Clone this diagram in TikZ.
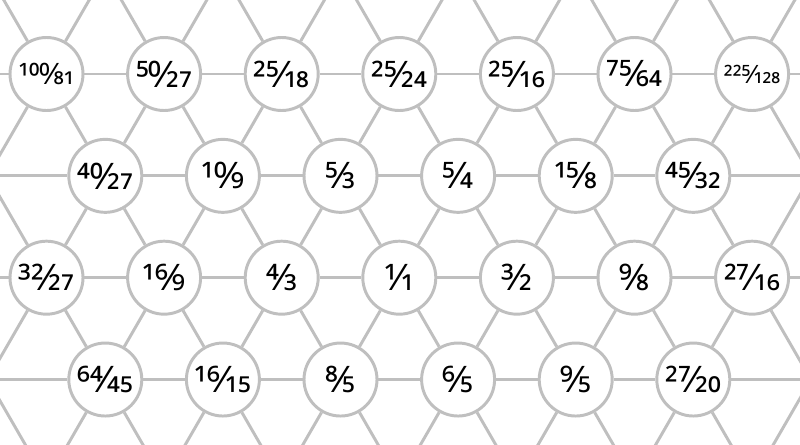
\documentclass[tikz,border=0pt]{standalone}
\usepackage{fontspec}
\setmainfont{Open Sans}
\newfontfamily\fracfont[Fractions=On]{Noto Sans}
\usetikzlibrary{positioning}

\tikzstyle{pitch} = [circle, draw=black!25, line width=2.1pt, fill=white, minimum size=1.825cm, inner sep=0pt]
\tikzstyle{link}  = [draw=black!25, line width=2.1pt]

% a ratio set as a font fraction, #1 = size in pt
\newcommand{\ratio}[3][26]{{\fontsize{#1}{#1}\fracfont #2/#3}}

\begin{document}
\begin{tikzpicture}
	\useasboundingbox (0,0) rectangle (20,-11.1);
	\clip (0,0) rectangle (20,-11.1);

	% lattice points (rows 0 and 5, columns 0 and 8 lie off the page)
	\foreach \r in {0,...,5} {
		\foreach \c in {0,...,8} {
			\ifodd\r
				\coordinate (p-\r-\c) at ({1.1625+(\c-1)*2.94}, {-1.85-(\r-1)*2.546});
			\else
				\coordinate (p-\r-\c) at ({1.1625+(\c-0.5)*2.94}, {-1.85-(\r-1)*2.546});
			\fi
		}
	}

	\node[pitch] (p-1-1) at (p-1-1) {\ratio[21]{100}{81}};
	\node[pitch] (p-1-2) at (p-1-2) {\ratio{50}{27}};
	\node[pitch] (p-1-3) at (p-1-3) {\ratio{25}{18}};
	\node[pitch] (p-1-4) at (p-1-4) {\ratio{25}{24}};
	\node[pitch] (p-1-5) at (p-1-5) {\ratio{25}{16}};
	\node[pitch] (p-1-6) at (p-1-6) {\ratio{75}{64}};
	\node[pitch] (p-1-7) at (p-1-7) {\ratio[18]{225}{128}};

	\node[pitch] (p-2-1) at (p-2-1) {\ratio{40}{27}};
	\node[pitch] (p-2-2) at (p-2-2) {\ratio{10}{9}};
	\node[pitch] (p-2-3) at (p-2-3) {\ratio{5}{3}};
	\node[pitch] (p-2-4) at (p-2-4) {\ratio{5}{4}};
	\node[pitch] (p-2-5) at (p-2-5) {\ratio{15}{8}};
	\node[pitch] (p-2-6) at (p-2-6) {\ratio{45}{32}};

	\node[pitch] (p-3-1) at (p-3-1) {\ratio{32}{27}};
	\node[pitch] (p-3-2) at (p-3-2) {\ratio{16}{9}};
	\node[pitch] (p-3-3) at (p-3-3) {\ratio{4}{3}};
	\node[pitch] (p-3-4) at (p-3-4) {\ratio{1}{1}};
	\node[pitch] (p-3-5) at (p-3-5) {\ratio{3}{2}};
	\node[pitch] (p-3-6) at (p-3-6) {\ratio{9}{8}};
	\node[pitch] (p-3-7) at (p-3-7) {\ratio{27}{16}};

	\node[pitch] (p-4-1) at (p-4-1) {\ratio{64}{45}};
	\node[pitch] (p-4-2) at (p-4-2) {\ratio{16}{15}};
	\node[pitch] (p-4-3) at (p-4-3) {\ratio{8}{5}};
	\node[pitch] (p-4-4) at (p-4-4) {\ratio{6}{5}};
	\node[pitch] (p-4-5) at (p-4-5) {\ratio{9}{5}};
	\node[pitch] (p-4-6) at (p-4-6) {\ratio{27}{20}};

	% links: along the row, then down-left and down-right
	\foreach \r in {0,...,5} {
		\foreach \c in {0,...,8} {
			\pgfmathtruncatemacro{\rn}{\r+1}
			\pgfmathtruncatemacro{\cn}{\c+1}
			\pgfmathtruncatemacro{\cp}{\c-1}
			\ifnum\c<8 \draw[link] (p-\r-\c) -- (p-\r-\cn); \fi
			\ifnum\r<5
				\draw[link] (p-\r-\c) -- (p-\rn-\c);
				\ifodd\r
					\ifnum\c>0 \draw[link] (p-\r-\c) -- (p-\rn-\cp); \fi
				\else
					\ifnum\c<8 \draw[link] (p-\r-\c) -- (p-\rn-\cn); \fi
				\fi
			\fi
		}
	}
\end{tikzpicture}
\end{document}
